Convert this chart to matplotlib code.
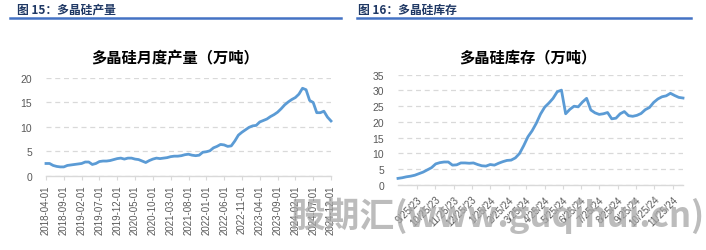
import numpy as np
import pandas as pd
import matplotlib
matplotlib.use("Agg")
from matplotlib import pyplot as plt
from matplotlib.lines import Line2D

plt.rcParams['font.family'] = ['Liberation Sans', 'Noto Sans CJK SC', 'DejaVu Sans']

# monthly polysilicon output (10k t), 2018-04 .. 2024-12
prod_start = "2018-04-01"
production = [2.5, 2.5, 2.1, 1.9, 1.8, 1.8, 2.1, 2.2, 2.3, 2.4,
              2.5, 2.8, 2.8, 2.3, 2.5, 2.9, 3.0, 3.0, 3.1, 3.3,
              3.5, 3.6, 3.4, 3.6, 3.6, 3.4, 3.3, 3.0, 2.7, 3.1,
              3.4, 3.6, 3.5, 3.6, 3.7, 3.9, 4.0, 4.0, 4.1, 4.3,
              4.4, 4.2, 4.1, 4.2, 4.8, 4.9, 5.1, 5.7, 6.0, 6.4,
              6.3, 6.0, 6.1, 7.1, 8.3, 8.9, 9.4, 9.9, 10.2, 10.3,
              11.0, 11.3, 11.6, 12.1, 12.5, 13.0, 13.7, 14.5, 15.1, 15.6,
              16.0, 16.7, 17.9, 17.6, 15.4, 15.0, 12.9, 12.9, 13.2, 12.0,
              11.2]

# weekly polysilicon inventory (10k t)
inv_start = "2023-08-24"
inventory = [2.1, 2.3, 2.6, 2.8, 3.1, 3.6, 4.1, 4.8, 5.5, 6.7,
             7.1, 7.3, 7.3, 6.3, 6.4, 7.0, 7.0, 6.9, 7.0, 6.5,
             6.1, 6.0, 6.5, 6.3, 6.9, 7.4, 7.8, 7.9, 8.6, 10.0,
             12.5, 15.3, 17.2, 19.6, 22.5, 24.7, 26.0, 27.5, 29.6, 30.1,
             22.6, 24.0, 25.0, 24.8, 26.3, 27.5, 23.8, 22.9, 22.4, 22.6,
             23.0, 21.0, 21.2, 22.6, 23.3, 22.0, 21.8, 22.1, 22.7, 23.9,
             24.6, 26.2, 27.3, 28.0, 28.3, 29.1, 28.4, 27.8, 27.6]

headers = ["图 15：多晶硅产量", "图 16：多晶硅库存"]
titles = ["多晶硅月度产量（万吨）", "多晶硅库存（万吨）"]

W, H = 706, 251
LINE = "#5B9BD5"
GRID = "#D9D9D9"
TXT = "#595959"
cjk = ['Noto Sans CJK SC', 'DejaVu Sans']


def px_axes(fig, x0, x1, ytop, ybot):
    return fig.add_axes([x0 / W, 1 - ybot / H, (x1 - x0) / W, (ybot - ytop) / H])


def style(ax):
    for s in ["top", "right", "left"]:
        ax.spines[s].set_visible(False)
    ax.spines["bottom"].set_color(GRID)
    ax.spines["bottom"].set_linewidth(1.0)
    ax.yaxis.grid(True, color=GRID, linestyle=(0, (4, 3)), linewidth=0.9)
    ax.set_axisbelow(True)
    ax.tick_params(axis="y", length=0, labelsize=7.5, labelcolor=TXT, pad=10)
    ax.tick_params(axis="x", length=3, color=GRID, labelsize=7, labelcolor=TXT)
    ax.set_facecolor("none")


fig = plt.figure(figsize=(W / 100, H / 100), dpi=100)

# headers with blue rule
for (tx, lx0, lx1), text in zip([(17, 10, 341), (358, 357, 691)], headers):
    fig.text(tx / W, 1 - 14 / H, text, family=cjk, fontsize=8.5, fontweight="bold",
             color="#1F3864", va="baseline")
    fig.add_artist(Line2D([lx0 / W, lx1 / W], [1 - 18.5 / H] * 2, color="#4472C4",
                          linewidth=1.8, transform=fig.transFigure))

# left chart: production
ax1 = px_axes(fig, 46, 331, 79, 176.7)
x1 = np.arange(len(production))
ax1.plot(x1, production, color=LINE, linewidth=2.0, clip_on=False)
ax1.set_xlim(0, len(production) - 1)
ax1.set_ylim(0, 20)
ax1.set_yticks([0, 5, 10, 15, 20])
months = pd.date_range(prod_start, periods=len(production), freq="MS")
ax1.set_xticks(x1[::5])
ax1.set_xticklabels([d.strftime("%Y-%m-%d") for d in months[::5]], rotation=90)
style(ax1)
fig.text(175 / W, 1 - 58 / H, titles[0], family=cjk, fontsize=11, fontweight="bold",
         ha="center", va="center", color="black")

# right chart: inventory
ax2 = px_axes(fig, 398, 683, 75.7, 186)
weeks = pd.date_range(inv_start, periods=len(inventory), freq="7D")
ax2.plot(weeks, inventory, color=LINE, linewidth=2.0, clip_on=False)
ax2.set_xlim(weeks[0], weeks[-1])
ax2.set_ylim(0, 35)
ax2.set_yticks(range(0, 36, 5))
ticks = pd.date_range("2023-08-25", "2024-11-25", freq="MS") + pd.Timedelta(days=24)
ax2.set_xticks(ticks)
ax2.set_xticklabels([f"{d.month}/{d.day}/{d.year % 100}" for d in ticks],
                    rotation=45, ha="right", rotation_mode="anchor")
style(ax2)
fig.text(528 / W, 1 - 57 / H, titles[1], family=cjk, fontsize=11, fontweight="bold",
         ha="center", va="center", color="black")

# watermark (sits over the tick labels, as in the source image)
fig.text(290 / W, 1 - 216 / H, "股期汇(www.guqihui.cn)", family=cjk, fontsize=25,
         fontweight="bold", style="italic", color="#A6A6A6", alpha=0.75,
         ha="left", va="center", zorder=10)

fig.savefig("out.png", dpi=100)
